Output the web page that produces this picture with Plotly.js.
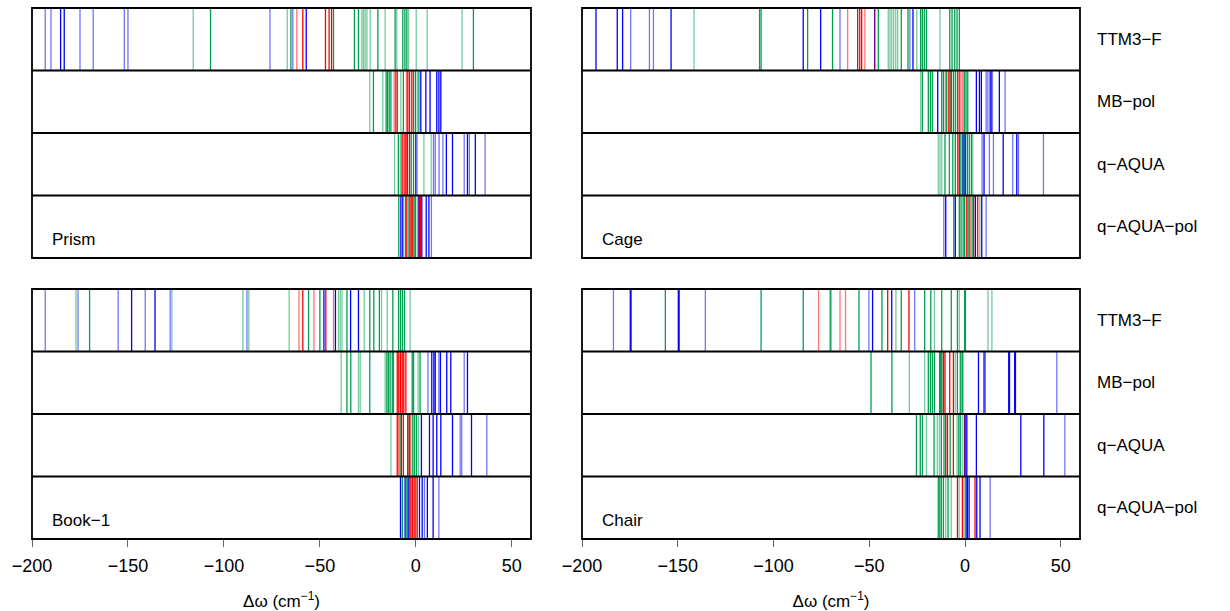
<!DOCTYPE html>
<html><head><meta charset="utf-8">
<script src="https://cdn.plot.ly/plotly-3.0.1.min.js"></script>
<style>html,body{margin:0;padding:0;background:#fff}#chart{width:1230px;height:611px}</style>
</head><body><div id="chart"></div>
<script>
// ---------------- data ----------------
const methods = ["TTM3−F", "MB−pol", "q−AQUA", "q−AQUA−pol"];
const structures = ["Prism", "Cage", "Book−1", "Chair"];
const xTicks = [-200, -150, -100, -50, 0, 50];
const xTickText = ["−200", "−150", "−100", "−50", "0", "50"];
const axisTitle = "Δω (cm<sup>−1</sup>)";

// keys: B = blue, b = light blue, G = green, g = light green, R = red, r = light red
const prismTTM = {
  B: [-185.1, -183.2, -57.1],
  b: [-193.1, -190.1, -175.0, -168.1, -151.9, -150.0, -76.0, -64.1],
  G: [-107.0, -65.1, -42.9, -32.0, -29.9, -19.8, -10.8, -6.8, -5.7, -4.7, 30.0],
  g: [-116.0, -67.0, -28.1, -27.3, -26.4, -25.5, -23.8, -16.0, -9.9, -3.8, 0.2, 5.9, 24.1],
  R: [-58.9, -47.1, -45.2, -43.9],
  r: [-62.0]
};
const prismMB = {
  B: [2.6, 5.2, 7.4, 10.9, 12.0, 13.0],
  b: [],
  G: [-22.1, -15.5, -14.8, -13.9, -13.0, -9.6, -6.5, -1.2, -0.2, 1.6],
  g: [-24.0, -17.2, -7.8, 0.8],
  R: [-10.4, -4.2, -3.3, -2.1],
  r: [-11.3, -4.9]
};
const prismQA = {
  B: [0.0, 15.9, 19.1, 26.9, 31.0],
  b: [9.2, 10.1, 12.1, 14.1, 25.2, 27.9, 36.1],
  G: [-9.1, -7.7, -2.4, -1.2],
  g: [-11.1, 0.8, 4.2, 8.0],
  R: [-6.8, -5.7, -5.1, -4.4, -3.3],
  r: []
};
const prismQAP = {
  B: [-7.8, -6.8, 1.7, 3.1, 5.4, 6.8],
  b: [8.1],
  G: [-8.9, -5.4, -3.6, -2.3, -0.9, -0.2],
  g: [0.8],
  R: [-4.7, -3.0, -1.6, 1.6, 2.4],
  r: []
};

const cageTTM = {
  B: [-192.7, -181.6, -178.8, -153.5, -84.5, -75.4, -27.2],
  b: [-174.6, -164.8, -162.7, -65.3, -47.2, -28.8],
  G: [-107.3, -106.5, -82.2, -69.2, -45.3, -33.3, -29.8, -23.2, -22.3, -21.3, -20.2, -8.0, -6.8, -5.4, -4.2, -3.0],
  g: [-141.5, -40.1, -39.2, -38.3, -37.3, -36.2, -35.2, -25.2, -13.1],
  R: [-56.1, -55.0, -54.0, -47.2],
  r: [-61.3, -52.3]
};
const cageMB = {
  B: [-14.3, 5.9, 7.5, 8.5, 13.1, 14.0, 17.9],
  b: [11.0, 11.9, 20.9],
  G: [-22.3, -19.2, -18.1, -17.1, -12.2, -11.3, -9.6, -7.8, -6.1, -5.1, -4.0, -0.4, 0.5, 1.4],
  g: [-23.2],
  R: [-8.5, -7.2, -3.1],
  r: [-10.3, -2.2, -1.2]
};
const cageQA = {
  B: [9.9, 19.9, 27.0],
  b: [-1.2, -0.5, 0.2, 8.9, 12.7, 14.8, 24.9, 27.9, 40.9],
  G: [-10.5, -8.2, -6.4, -5.1, -2.2, -1.2, -0.5, 0.2, 1.2, 2.2, 3.3],
  g: [-14.0, -13.1, -12.2, 4.0],
  R: [-3.8, -3.0],
  r: []
};
const cageQAP = {
  B: [-10.1, -5.1, 5.4, 8.7],
  b: [-11.1, 11.0],
  G: [-5.9, -3.0, -2.1, -1.0, -0.2, 1.6, 3.7],
  g: [7.7],
  R: [0.9, 2.5, 4.5, 6.6],
  r: []
};

const bookTTM = {
  B: [-148.1, -135.9, -47.9, -41.9, -34.0, -29.9],
  b: [-193.1, -176.0, -155.1, -141.0, -128.0, -88.0],
  G: [-170.0, -55.9, -50.0, -35.9, -24.0, -21.9, -19.0, -12.0, -9.0, -8.0, -7.0, -5.9],
  g: [-177.1, -127.1, -90.1, -87.0, -66.0, -40.3, -39.4, -38.5, -26.9, -17.9, -14.9, -3.0],
  R: [-58.9, -46.9],
  r: [-60.9, -53.1, -42.9]
};
const bookMB = {
  B: [8.3, 9.4, 10.1, 12.8, 16.1, 18.2, 26.9],
  b: [6.3, 12.0, 25.2],
  G: [-35.9, -33.9, -24.0, -15.1, -14.3, -13.4, -12.3, -11.7, -1.9, -1.2, 2.2],
  g: [-38.9, -29.9, -29.0, -16.0, 1.2],
  R: [-9.7, -8.9, -8.0, -7.1, -6.3, -5.2],
  r: []
};
const bookQA = {
  B: [2.9, 7.1, 9.0, 10.9, 13.0, 19.1, 29.0],
  b: [23.1, 23.9, 37.0],
  G: [-8.2, -4.2, -3.3, -1.6, -0.7, 0.3],
  g: [-13.0, 1.4],
  R: [-9.7, -7.5, -6.5, -4.2, -3.3],
  r: [-9.0, -2.6]
};
const bookQAP = {
  B: [-8.0, -5.6, -4.0, 1.9, 3.3, 6.0, 9.0],
  b: [4.5, 12.0],
  G: [-7.0, -4.7, -3.3, 0.8],
  g: [],
  R: [-2.6, -1.8, -0.9, 0.0],
  r: []
};

const chairTTM = {
  B: [-174.8, -174.4, -149.7, -149.3, -48.3, -38.3],
  b: [-183.6, -135.6, -50.2, -26.3],
  G: [-156.5, -106.5, -84.5, -70.4, -55.4, -43.4, -33.3, -21.1, -17.9, -12.2, -7.2, -4.0, -0.2, 0.2],
  g: [-69.9, -36.1, -16.0, -3.0, 12.0, 14.0],
  R: [-40.4, -29.3],
  r: [-76.5, -65.3, -62.4]
};
const chairMB = {
  B: [7.0, 9.9, 22.8, 23.2, 25.9, 26.3],
  b: [10.6, 47.9],
  G: [-49.1, -38.2, -19.2, -18.1, -17.1, -16.0, -13.3, -12.9, -12.2, -11.3, -4.0, -2.5, -1.6, -1.2],
  g: [-29.1, -21.1, -5.1],
  R: [-11.3, -10.5, -8.0, -6.1],
  r: []
};
const chairQA = {
  B: [0.0, 0.9, 5.9, 29.1, 41.1],
  b: [52.1],
  G: [-25.4, -23.4, -22.3, -16.2, -12.4, -11.0, -7.8, -3.3, -2.5],
  g: [-20.2, -14.5, -13.4, -4.2, -1.2],
  R: [-10.1, -9.2, -6.1, -0.2],
  r: []
};
const chairQAP = {
  B: [0.5, 1.2, 2.1, 6.1, 7.8],
  b: [13.1],
  G: [-14.0, -13.2, -12.4, -11.3, -8.9],
  g: [-10.1, -7.2, -3.1, -0.5],
  R: [-4.0, -1.4, 5.2],
  r: []
};

// ---------------- build ----------------
const panelRows = [
  [prismTTM, prismMB, prismQA, prismQAP],
  [cageTTM, cageMB, cageQA, cageQAP],
  [bookTTM, bookMB, bookQA, bookQAP],
  [chairTTM, chairMB, chairQA, chairQAP]
];
const colorMap = {
  g: 'rgba(0,160,80,0.55)', G: 'rgb(0,160,80)',
  r: 'rgba(255,0,0,0.55)', R: 'rgb(255,0,0)',
  b: 'rgba(0,0,255,0.55)', B: 'rgb(0,0,255)'
};
const drawOrder = ['g', 'G', 'r', 'R', 'b', 'B'];

const W = 1230, H = 611;
const colPx = [[32, 531], [582, 1080]];
const rowPx = [[8, 258], [289, 539]];
const font = "Liberation Sans, Arial, Helvetica, sans-serif";

const layout = {
  width: W, height: H,
  margin: {l: 0, r: 0, t: 0, b: 0},
  paper_bgcolor: '#fff', plot_bgcolor: '#fff',
  showlegend: false,
  font: {family: font, color: '#000', size: 16},
  shapes: [], annotations: []
};
const traces = [];

for (let p = 0; p < 4; p++) {
  const col = p % 2, prow = Math.floor(p / 2);
  const sfx = p === 0 ? '' : String(p + 1);
  const xa = 'x' + sfx, ya = 'y' + sfx;
  const bottom = prow === 1;
  const xaxis = {
    domain: [colPx[col][0] / W, colPx[col][1] / W],
    range: [-200, 60], anchor: ya, visible: bottom,
    showgrid: false, zeroline: false, showline: false,
    tickvals: xTicks, ticktext: xTickText,
    ticks: bottom ? 'outside' : '', ticklen: 7, tickwidth: 1, tickcolor: '#666',
    showticklabels: bottom, ticklabelstandoff: 3,
    tickfont: {size: 18, family: font, color: '#000'},
    automargin: false, fixedrange: true
  };
  if (bottom) xaxis.title = {text: axisTitle, font: {size: 17, family: font}, standoff: 22};
  layout['xaxis' + sfx] = xaxis;
  layout['yaxis' + sfx] = {
    domain: [1 - rowPx[prow][1] / H, 1 - rowPx[prow][0] / H],
    range: [0, 4], anchor: xa, visible: false,
    showgrid: false, zeroline: false, showline: false,
    showticklabels: false, ticks: '', automargin: false, fixedrange: true
  };
  traces.push({x: [-200, 60], y: [0, 4], xaxis: xa, yaxis: ya, mode: 'markers',
               marker: {opacity: 0}, hoverinfo: 'skip', type: 'scatter'});

  panelRows[p].forEach((row, m) => {
    const y0 = 3 - m;
    drawOrder.forEach(k => {
      (row[k] || []).forEach(v => {
        layout.shapes.push({type: 'line', xref: xa, yref: ya, x0: v, x1: v, y0: y0, y1: y0 + 1,
                            line: {color: colorMap[k], width: 1.3}, layer: 'above'});
      });
    });
  });
  // row separators
  [1, 2, 3].forEach(yv => layout.shapes.push({type: 'line', xref: xa + ' domain', yref: ya,
    x0: 0, x1: 1, y0: yv, y1: yv, line: {color: '#000', width: 1.8}}));
  // frame
  layout.shapes.push({type: 'rect', xref: xa + ' domain', yref: ya + ' domain',
    x0: 0, x1: 1, y0: 0, y1: 1, line: {color: '#000', width: 1.8}});
  // structure label
  layout.annotations.push({text: structures[p], xref: xa + ' domain', yref: ya, x: 0.037, y: 0.3,
    xanchor: 'left', yanchor: 'middle', showarrow: false, font: {size: 17, family: font}});
  // method labels on the right
  if (col === 1) {
    methods.forEach((name, m) => layout.annotations.push({text: name, xref: 'paper', yref: ya,
      x: 1095 / W, y: 3 - m + 0.5, xanchor: 'left', yanchor: 'middle', showarrow: false,
      font: {size: 17, family: font}}));
  }
}

Plotly.newPlot('chart', traces, layout, {staticPlot: true, displayModeBar: false});
</script>
</body></html>
